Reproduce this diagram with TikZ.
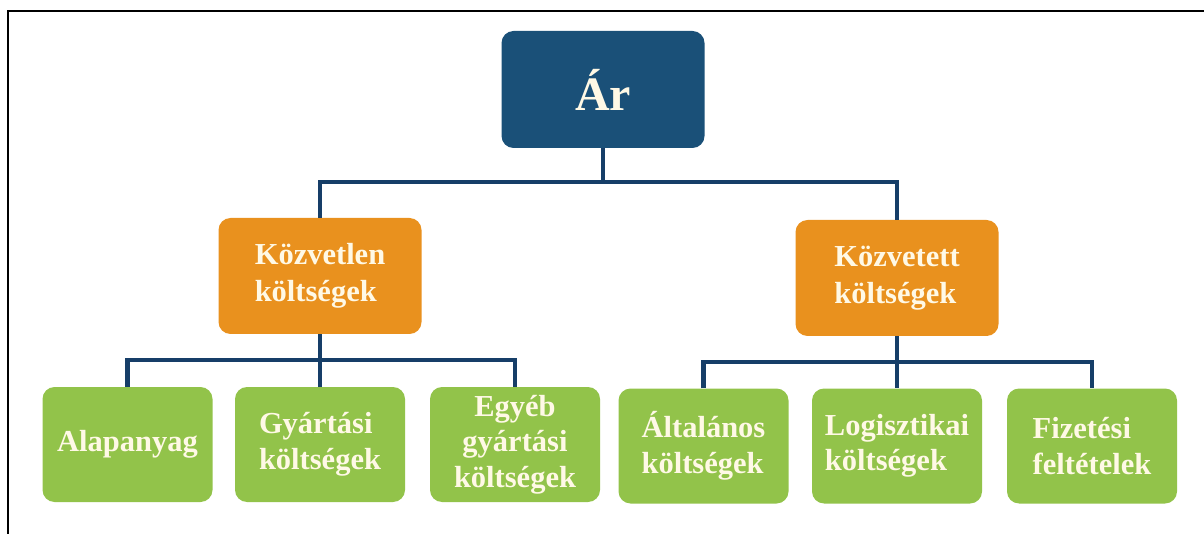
\documentclass[tikz,border=0pt]{standalone}
\usepackage{fontspec}
\setmainfont{Liberation Serif}
\definecolor{navy}{RGB}{26,80,120}
\definecolor{linec}{RGB}{22,62,104}
\definecolor{orangebox}{RGB}{233,145,30}
\definecolor{greenbox}{RGB}{146,195,74}
\definecolor{cream}{RGB}{255,249,230}
\tikzset{
  box/.style={rectangle, rounded corners=12pt, inner sep=0pt, text=cream,
    font=\bfseries\fontsize{30.5}{35.5}\selectfont},
  topbox/.style={box, fill=navy, minimum width=203pt, minimum height=117pt,
    font=\bfseries\fontsize{48}{54}\selectfont},
  midbox/.style={box, fill=orangebox, minimum width=203pt, minimum height=116pt, align=left,
    font=\bfseries\fontsize{30.5}{37.5}\selectfont},
  leafbox/.style={box, fill=greenbox, minimum width=170pt, minimum height=115pt, align=left},
  conn/.style={draw=linec, line width=4.5pt},
  frame/.style={draw=black, line width=2pt}
}
\begin{document}
\begin{tikzpicture}[x=1pt,y=-1pt]
\useasboundingbox (0,0) rectangle (1204,534);
\draw[frame] (8,534) -- (8,11) -- (1204,11);

\node[topbox] (ar) at (603,89.5) {Ár};
\node[midbox] (kl) at (320,276) {Közvetlen\\költségek};
\node[midbox] (kt) at (897,278) {Közvetett\\költségek};

\node[leafbox] (g1) at (127.5,444.5) {Alapanyag};
\node[leafbox] (g2) at (320,444.5) {Gyártási\\költségek};
\node[leafbox, align=center] (g3) at (515,444.5) {Egyéb\\gyártási\\költségek};
\node[leafbox] (g4) at (703.5,446) {Általános\\költségek};
\node[leafbox] (g5) at (897,446) {Logisztikai\\költségek};
\node[leafbox] (g6) at (1092,446) {Fizetési\\feltételek};

\coordinate (busA) at (603,182);
\coordinate (busB) at (320,360);
\coordinate (busC) at (897,362);

\draw[conn] (ar.south) -- (busA);
\draw[conn] (kl.north) |- (busA) -| (kt.north);

\draw[conn] (kl.south) -- (busB);
\draw[conn] (g1.north) |- (busB) -| (g3.north);
\draw[conn] (busB) -- (g2.north);

\draw[conn] (kt.south) -- (busC);
\draw[conn] (g4.north) |- (busC) -| (g6.north);
\draw[conn] (busC) -- (g5.north);
\end{tikzpicture}
\end{document}
